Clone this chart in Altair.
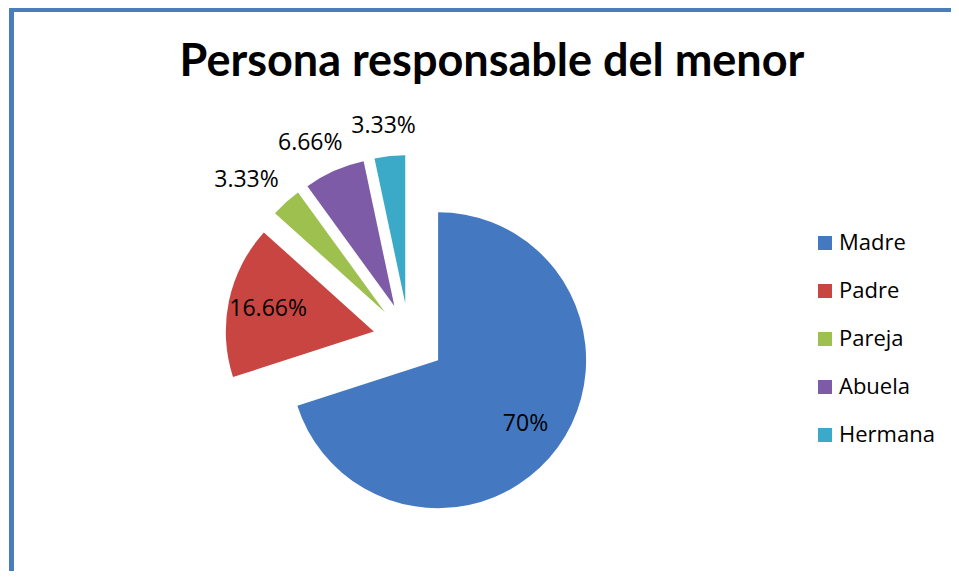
import altair as alt
import pandas as pd

# ---- data ----
categories = ["Madre", "Padre", "Pareja", "Abuela", "Hermana"]
values = [70, 16.66, 3.33, 6.66, 3.33]
labels = ["70%", "16.66%", "3.33%", "6.66%", "3.33%"]
order = [0, 1, 2, 3, 4]
colors = ["#4479c2", "#c94542", "#9dc04e", "#7d5ba6", "#3aaac8"]
title_text = "Persona responsable del menor"

# ---- layout / style constants (pixels inside the plot area) ----
W, H = 943, 563
CX, CY = 401, 331      # pie centre
R = 148                # pie radius
E = 36                 # explosion distance
FONT = "Open Sans"
TITLE_FONT = "Lato"
BORDER = "#4a7ebb"

df = pd.DataFrame({"cat": categories, "value": values, "label": labels, "order": order})

base = (
    alt.Chart(df)
    .transform_joinaggregate(total="sum(value)")
    .transform_window(cum="sum(value)", sort=[alt.SortField("order")], frame=[None, 0])
    .transform_calculate(
        t0="2*PI*(datum.cum - datum.value)/datum.total",
        t1="2*PI*datum.cum/datum.total",
    )
    .transform_calculate(mid="(datum.t0 + datum.t1)/2")
    .transform_calculate(
        cx=f"{CX} + {E}*sin(datum.mid)",
        cy=f"{CY} - {E}*cos(datum.mid)",
        small="datum.value/datum.total < 0.1",
        hw="length(datum.label)*8",
    )
    .transform_calculate(
        lx=f"datum.small ? datum.cx + ({R}+19)*sin(datum.mid) + datum.hw*sin(datum.mid)"
           f" : datum.cx + {R}*0.73*sin(datum.mid)",
        ly=f"datum.small ? datum.cy - ({R}+19)*cos(datum.mid) - 11*cos(datum.mid)"
           f" : datum.cy - {R}*0.73*cos(datum.mid)",
    )
)

arcs = base.mark_arc(outerRadius=R).encode(
    x=alt.X("cx:Q", scale=None, axis=None),
    y=alt.Y("cy:Q", scale=None, axis=None),
    theta=alt.Theta("t0:Q", scale=None, stack=None),
    theta2="t1:Q",
    color=alt.Color(
        "cat:N",
        scale=alt.Scale(domain=categories, range=colors),
        legend=alt.Legend(
            title=None,
            orient="none",
            legendX=806,
            legendY=224,
            symbolType="square",
            symbolSize=196,
            symbolStrokeWidth=0,
            labelFont=FONT,
            labelFontSize=22,
            labelColor="black",
            labelOffset=3,
            rowPadding=26,
            padding=0,
        ),
    ),
)

texts = base.mark_text(font=FONT, fontSize=23, color="black", align="center", baseline="middle").encode(
    x=alt.X("lx:Q", scale=None, axis=None),
    y=alt.Y("ly:Q", scale=None, axis=None),
    text="label:N",
)

one = pd.DataFrame({"t": [title_text]})
title = alt.Chart(one).mark_text(
    font=TITLE_FONT, fontSize=45, fontWeight="bold", color="black", align="center", baseline="alphabetic"
).encode(text="t:N", x=alt.value(484), y=alt.value(68))

left_border = alt.Chart(one).mark_rule(color=BORDER, strokeWidth=5).encode(
    x=alt.value(3.5), y=alt.value(0), y2=alt.value(H)
)
top_border = alt.Chart(one).mark_rule(color=BORDER, strokeWidth=4).encode(
    x=alt.value(1), x2=alt.value(W), y=alt.value(2)
)

chart = (
    alt.layer(left_border, top_border, title, arcs, texts)
    .properties(width=W, height=H, autosize="none", padding=0)
    .configure_view(stroke=None)
)

chart.save("out.html", embed_options={"renderer": "svg", "actions": False})
